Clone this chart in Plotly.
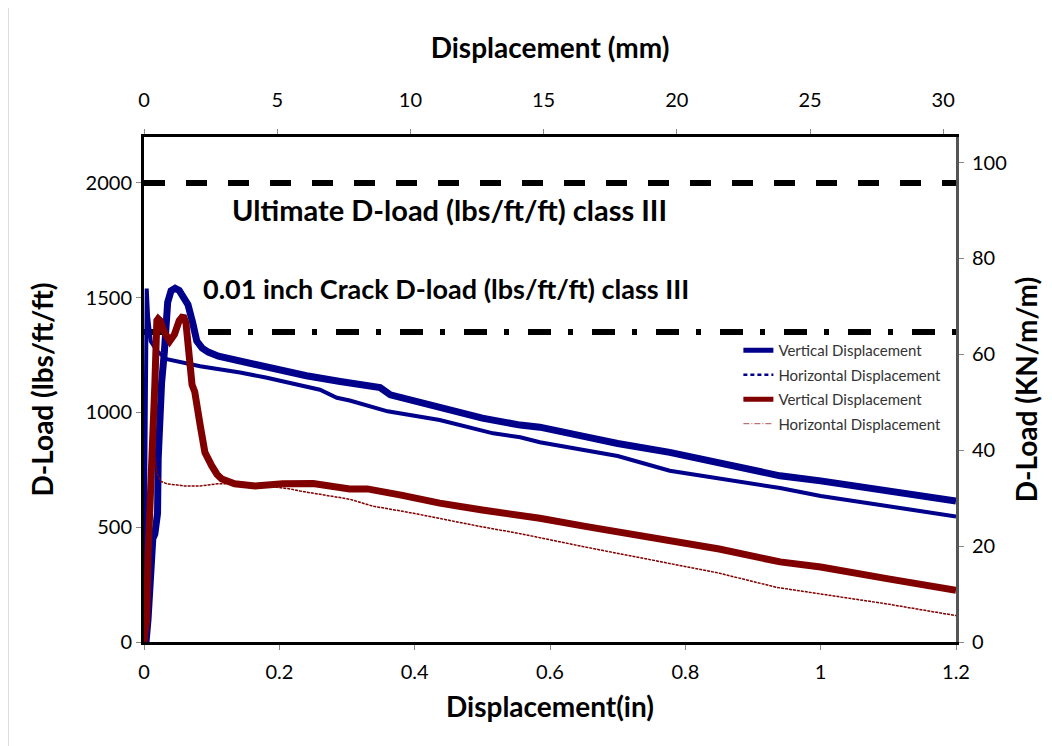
import plotly.graph_objects as go

# ---- data ----
blue_v_x = [0.000, 0.003, 0.006, 0.008, 0.010, 0.013, 0.016, 0.018, 0.020, 0.021, 0.023, 0.026, 0.030, 0.035, 0.040,
            0.046, 0.052, 0.058, 0.065, 0.072, 0.078, 0.086, 0.095, 0.110, 0.142, 0.190, 0.240, 0.290, 0.330,
            0.349, 0.364, 0.400, 0.437, 0.500, 0.556, 0.585, 0.650, 0.700, 0.777, 0.850, 0.940, 1.000, 1.100, 1.200]
blue_v_y = [0, 0, 100, 250, 400, 450, 470, 530, 560, 800, 1000, 1130, 1260, 1480, 1530,
            1541, 1532, 1505, 1470, 1390, 1311, 1280, 1263, 1245, 1223, 1188, 1160, 1135, 1118,
            1108, 1077, 1050, 1020, 975, 945, 936, 896, 865, 826, 782, 724, 702, 655, 614]

blue_h_x = [0.000, 0.001, 0.002, 0.003, 0.004, 0.006, 0.010, 0.020, 0.034, 0.083, 0.142, 0.180, 0.260,
            0.285, 0.304, 0.360, 0.437, 0.516, 0.556, 0.585, 0.650, 0.700, 0.777, 0.850, 0.940, 1.000, 1.100, 1.200]
blue_h_y = [0, 400, 900, 1300, 1540, 1420, 1310, 1265, 1232, 1201, 1174, 1152, 1099,
            1064, 1052, 1005, 967, 909, 892, 870, 836, 810, 746, 712, 671, 636, 590, 547]

red_v_x = [0.000, 0.004, 0.006, 0.009, 0.013, 0.016, 0.019, 0.021, 0.024, 0.030, 0.038, 0.045, 0.052, 0.058,
           0.062, 0.065, 0.071, 0.075, 0.080, 0.083, 0.090, 0.095, 0.100, 0.108, 0.115, 0.134, 0.164, 0.205,
           0.250, 0.304, 0.330, 0.380, 0.437, 0.500, 0.556, 0.585, 0.650, 0.700, 0.777, 0.850, 0.940, 1.000,
           1.100, 1.200]
red_v_y = [0, 100, 384, 680, 975, 1121, 1400, 1408, 1400, 1350, 1311, 1340, 1400, 1422,
           1390, 1311, 1121, 1090, 975, 945, 826, 790, 768, 730, 710, 689, 680, 689,
           690, 667, 667, 640, 605, 575, 556, 539, 505, 480, 446, 405, 349, 327,
           275, 225]

red_h_x = [0.000, 0.003, 0.006, 0.010, 0.014, 0.016, 0.019, 0.025, 0.034, 0.060, 0.083, 0.109, 0.157, 0.216,
           0.230, 0.304, 0.338, 0.400, 0.497, 0.556, 0.650, 0.777, 0.850, 0.935, 1.000, 1.100, 1.200]
red_h_y = [0, 150, 400, 700, 880, 800, 737, 700, 689, 680, 680, 689, 689, 667,
           658, 622, 592, 560, 503, 472, 415, 340, 300, 238, 210, 165, 115]

ultimate_x = [0.0, 1.2]
ultimate_y = [2000, 2000]
crack_x = [0.0, 1.2]
crack_y = [1350, 1350]

series_names = ["Vertical Displacement", "Horizontal Displacement", "Vertical Displacement", "Horizontal Displacement"]
ultimate_label = "Ultimate D-load (lbs/ft/ft) class III"
crack_label = "0.01 inch Crack D-load (lbs/ft/ft) class III"

x_in_ticks = [0, 0.2, 0.4, 0.6, 0.8, 1, 1.2]
x_mm_ticks = [0, 5, 10, 15, 20, 25, 30]
y_lbs_ticks = [0, 500, 1000, 1500, 2000]
y_kn_ticks = [0, 20, 40, 60, 80, 100]

X_MAX_IN = 1.2
Y_MAX_LBS = 2200
IN_TO_MM = 25.4
LBS_TO_KN = 0.04788

BLUE = "#00008B"
RED = "#800000"
FONT = "Lato"

fig = go.Figure()

fig.add_trace(go.Scatter(x=ultimate_x, y=ultimate_y, mode="lines", showlegend=False,
                         line=dict(color="black", width=6, dash="21px,21px")))
fig.add_trace(go.Scatter(x=crack_x, y=crack_y, mode="lines", showlegend=False,
                         line=dict(color="black", width=6, dash="23px,17px,5px,19px")))

fig.add_trace(go.Scatter(x=blue_v_x, y=blue_v_y, mode="lines", showlegend=False,
                         line=dict(color=BLUE, width=7)))
fig.add_trace(go.Scatter(x=blue_h_x, y=blue_h_y, mode="lines", showlegend=False,
                         line=dict(color=BLUE, width=4)))
fig.add_trace(go.Scatter(x=red_v_x, y=red_v_y, mode="lines", showlegend=False,
                         line=dict(color=RED, width=7)))
fig.add_trace(go.Scatter(x=red_h_x, y=red_h_y, mode="lines", showlegend=False,
                         line=dict(color=RED, width=1.5, dash="3px,1px")))

# legend entries
legend_styles = [dict(color=BLUE, width=5), dict(color=BLUE, width=2.5, dash="4px,3px"),
                 dict(color=RED, width=5), dict(color="#B05050", width=1, dash="6px,2px,1px,2px")]
for i, (nm, st) in enumerate(zip(series_names, legend_styles)):
    fig.add_trace(go.Scatter(x=[None], y=[None], mode="lines", name=nm, line=st,
                             legendgroup=f"g{i}"))

# invisible trace for secondary axes
fig.add_trace(go.Scatter(x=[0, X_MAX_IN * IN_TO_MM], y=[0, Y_MAX_LBS * LBS_TO_KN], xaxis="x2", yaxis="y2",
                         mode="lines", line=dict(width=0), showlegend=False, hoverinfo="skip"))

axis_font = dict(family=FONT, size=20, color="black")
title_font = dict(family=FONT, size=28, color="black", weight="bold")

fig.update_layout(
    width=1044, height=738,
    margin=dict(l=136, r=96, t=129, b=104),
    paper_bgcolor="white", plot_bgcolor="white",
    font=dict(family=FONT),
    xaxis=dict(range=[0, X_MAX_IN], tickvals=x_in_ticks, ticktext=["0", "0.2", "0.4", "0.6", "0.8", "1", "1.2"],
               showgrid=False, zeroline=False, showline=True, linecolor="black", linewidth=3,
               ticks="outside", tickcolor="#888888", ticklen=5, tickfont=axis_font, ticklabelstandoff=5,
               title=dict(text="Displacement(in)", font=title_font, standoff=16)),
    yaxis=dict(range=[0, Y_MAX_LBS], tickvals=y_lbs_ticks, showgrid=False, zeroline=False,
               showline=True, linecolor="black", linewidth=3,
               ticks="outside", tickcolor="#888888", ticklen=5, tickfont=axis_font,
               title=dict(text="D-Load (lbs/ft/ft)", font=title_font, standoff=24)),
    xaxis2=dict(range=[0, X_MAX_IN * IN_TO_MM], tickvals=x_mm_ticks, overlaying="x", side="top", anchor="y",
                showgrid=False, zeroline=False, showline=True, linecolor="black", linewidth=3,
                ticks="outside", tickcolor="#888888", ticklen=5, tickfont=axis_font, ticklabelstandoff=14,
                title=dict(text="Displacement (mm)", font=title_font, standoff=21)),
    yaxis2=dict(range=[0, Y_MAX_LBS * LBS_TO_KN], tickvals=y_kn_ticks, overlaying="y", side="right", anchor="x",
                showgrid=False, zeroline=False, showline=True, linecolor="#555555", linewidth=3,
                ticks="outside", tickcolor="#888888", ticklen=5, tickfont=axis_font, ticklabelstandoff=4,
                title=dict(text="D-Load (KN/m/m)", font=title_font, standoff=12)),
    legend=dict(x=0.732, y=0.61, xanchor="left", yanchor="top", bgcolor="rgba(0,0,0,0)",
                font=dict(family=FONT, size=15, color="#333333"), traceorder="grouped",
                tracegroupgap=2),
    annotations=[
        dict(x=0.451, y=1885, xref="x", yref="y", text=ultimate_label, showarrow=False,
             font=dict(family=FONT, size=29, color="black", weight="bold")),
        dict(x=0.446, y=1540, xref="x", yref="y", text=crack_label, showarrow=False,
             font=dict(family=FONT, size=27, color="black", weight="bold")),
    ],
    shapes=[dict(type="rect", xref="paper", yref="paper", x0=-136/812, x1=1+95/812, y0=-103/497, y1=1+128/497,
                 line=dict(color="#BBBBBB", width=1))],
)

fig.write_html("out.html")
